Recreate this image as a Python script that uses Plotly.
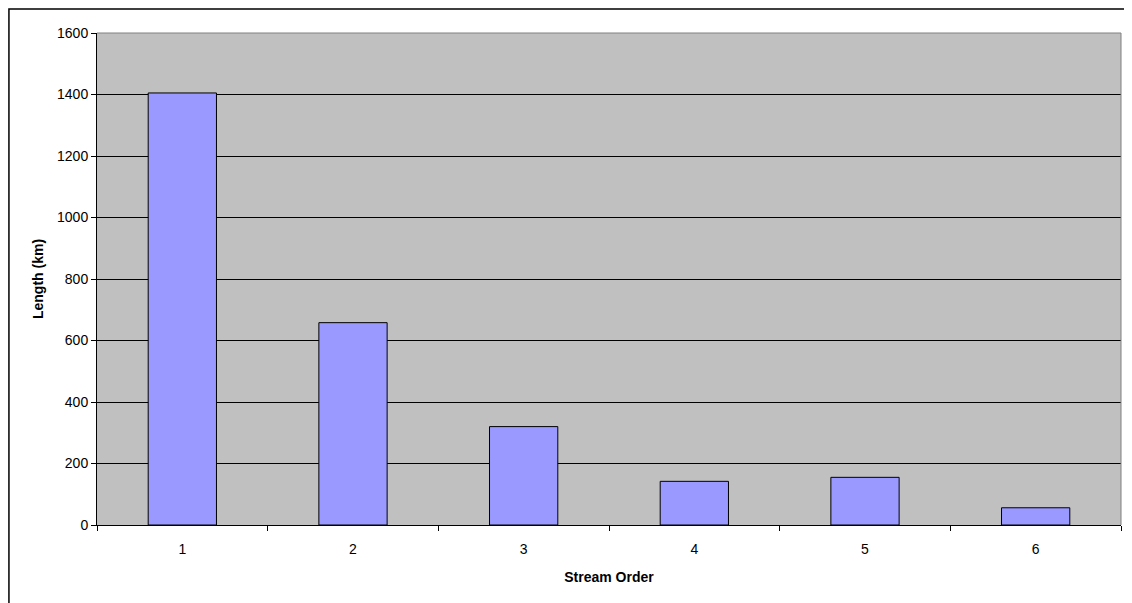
import plotly.graph_objects as go

categories = ["1", "2", "3", "4", "5", "6"]
lengths_km = [1405, 658, 320, 142, 155, 56]
y_ticks = [0, 200, 400, 600, 800, 1000, 1200, 1400, 1600]

fig = go.Figure()
fig.add_trace(go.Bar(
    x=categories, y=lengths_km,
    marker=dict(color="#9999FF", line=dict(color="black", width=1)),
    width=0.4,
))

fig.update_layout(
    width=1124, height=595,
    margin=dict(l=89, r=11, t=25, b=78),
    paper_bgcolor="white", plot_bgcolor="#C0C0C0",
    showlegend=False,
    font=dict(family="Liberation Sans, Arial, sans-serif", size=15, color="black"),
    xaxis=dict(
        type="category", tickson="boundaries", ticks="outside", ticklen=5,
        tickcolor="black", showline=True, linecolor="black", linewidth=1,
        showgrid=False, tickfont=dict(size=14), ticklabelstandoff=11,
        title=dict(text="<b>Stream Order</b>", font=dict(size=14), standoff=16),
    ),
    yaxis=dict(
        range=[0, 1600], tickvals=y_ticks, ticks="outside", ticklen=5,
        tickcolor="black", showline=True, linecolor="black", linewidth=1,
        showgrid=True, gridcolor="black", gridwidth=1, zeroline=False,
        tickfont=dict(size=14),
        title=dict(text="<b>Length (km)</b>", font=dict(size=14), standoff=10),
    ),
    shapes=[
        dict(type="line", xref="paper", yref="paper", x0=0, x1=1, y0=1, y1=1,
             line=dict(color="#808080", width=1)),
        dict(type="line", xref="paper", yref="paper", x0=1, x1=1, y0=0, y1=1,
             line=dict(color="#808080", width=1)),
        dict(type="rect", xref="paper", yref="paper",
             x0=-0.086, x1=1.0068, y0=-0.17, y1=1.0488,
             line=dict(color="black", width=1.5)),
    ],
)

fig.write_html("out.html")
